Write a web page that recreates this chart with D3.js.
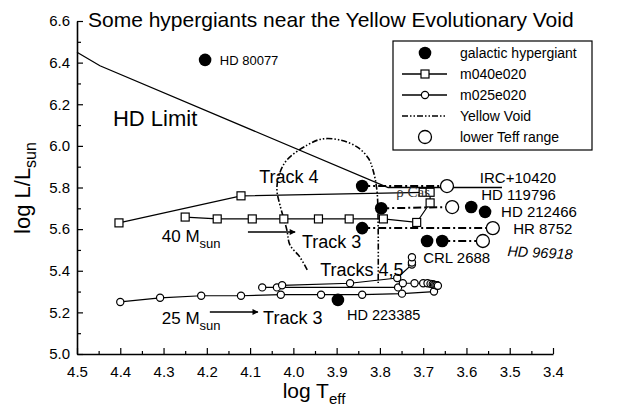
<!DOCTYPE html>
<html><head><meta charset="utf-8">
<script src="https://cdn.jsdelivr.net/npm/d3@7"></script>
<style>
body{margin:0;background:#fff;}
text{font-family:"Liberation Sans",Arial,Helvetica,sans-serif;fill:#000;}
</style></head>
<body>
<svg id="c" width="630" height="408"></svg>
<script>
// ---- data (log Teff, log L/Lsun) ----
const hdLimit = [[4.5,6.45],[4.447,6.385],[3.781,5.80],[3.518,5.80]];
const hypergiants = [[4.204,6.413],[3.841,5.807],[3.797,5.70],[3.841,5.605],[3.589,5.706],[3.557,5.683],[3.691,5.543],[3.656,5.543],[3.897,5.26]];
const lowerTeff = [[3.645,5.807],[3.633,5.706],[3.539,5.605],[3.562,5.543]];
const teffLinks = [[[3.841,5.807],[3.645,5.807]],[[3.797,5.70],[3.633,5.706]],[[3.841,5.605],[3.539,5.605]],[[3.656,5.543],[3.562,5.543]]];
const m040track4 = [[4.403,5.63],[4.121,5.76],[3.700,5.777]];
const m040track3 = [[4.25,5.658],[4.176,5.649],[4.095,5.649],[4.022,5.649],[3.942,5.649],[3.871,5.649],[3.792,5.649],[3.715,5.632],[3.684,5.726],[3.684,5.777]];
const m025track3 = [[4.40,5.25],[4.308,5.27],[4.213,5.28],[4.121,5.28],[4.029,5.285],[3.936,5.285],[3.841,5.285],[3.749,5.29],[3.675,5.30],[3.668,5.33]];
const m025track4 = [[4.072,5.32],[4.038,5.32],[3.758,5.32],[3.747,5.34],[3.72,5.34],[3.70,5.34],[3.69,5.34],[3.683,5.337],[3.678,5.335],[3.675,5.333],[3.672,5.331],[3.669,5.33],[3.666,5.328]];
const m025track5 = [[4.026,5.33],[3.869,5.34],[3.76,5.365],[3.726,5.43],[3.726,5.44],[3.726,5.465]];
const yellowVoid = [[3.968,5.404],[3.985,5.466],[4.008,5.524],[4.015,5.596],[4.031,5.716],[4.038,5.788],[4.033,5.860],[4.015,5.932],[3.968,6.004],[3.934,6.033],[3.892,6.028],[3.853,5.995],[3.827,5.942],[3.816,5.884],[3.807,5.788],[3.804,5.596],[3.804,5.341]];
const xTicks = [4.5,4.4,4.3,4.2,4.1,4.0,3.9,3.8,3.7,3.6,3.5,3.4];
const yTicks = [5.0,5.2,5.4,5.6,5.8,6.0,6.2,6.4,6.6];
const legendItems = ["galactic hypergiant","m040e020","m025e020","Yellow Void","lower Teff range"];
const starLabels = [
  {t:"HD 80077",x:4.170,y:6.389,s:13},
  {t:"IRC+10420",x:3.569,y:5.822,s:15},
  {t:"HD 119796",x:3.566,y:5.740,s:15},
  {t:"HD 212466",x:3.520,y:5.658,s:15},
  {t:"HR 8752",x:3.492,y:5.577,s:15},
  {t:"CRL 2688",x:3.700,y:5.437,s:15},
  {t:"HD 223385",x:3.876,y:5.163,s:14.5}
];

const svg = d3.select("#c");
const x = d3.scaleLinear().domain([4.5,3.4]).range([77,553]);
const y = d3.scaleLinear().domain([5.0,6.6]).range([354,21]);
const line = d3.line().x(d=>x(d[0])).y(d=>y(d[1]));

// axes
svg.append("g").attr("transform","translate(0,354)")
  .call(d3.axisBottom(x).tickValues(xTicks).tickFormat(d3.format(".1f")).tickSize(-6).tickSizeOuter(0).tickPadding(12));
const xm = svg.append("g").attr("transform","translate(0,354)")
  .call(d3.axisBottom(x).tickValues(d3.range(0,11).map(i=>4.45-i*0.1)).tickFormat("").tickSize(-3).tickSizeOuter(0));
xm.select(".domain").remove();
svg.append("g").attr("transform","translate(77,0)")
  .call(d3.axisLeft(y).tickValues(yTicks).tickFormat(d3.format(".1f")).tickSize(-6).tickSizeOuter(0).tickPadding(7));
const ym = svg.append("g").attr("transform","translate(77,0)")
  .call(d3.axisLeft(y).tickValues(d3.range(0,8).map(i=>5.1+i*0.2)).tickFormat("").tickSize(-4).tickSizeOuter(0));
ym.select(".domain").remove();
svg.selectAll(".domain").attr("stroke","#000").attr("stroke-width",1.6);
svg.selectAll(".tick line").attr("stroke","#000").attr("stroke-width",1.2);
svg.selectAll(".tick text").attr("font-size",15).attr("font-family","Liberation Sans, Arial, sans-serif").attr("fill","#000");

// axis titles
const xt = svg.append("text").attr("x",314).attr("y",398).attr("text-anchor","middle").attr("font-size",21);
xt.append("tspan").text("log T");
xt.append("tspan").attr("font-size",15).attr("dy",6).text("eff");
const yt = svg.append("text").attr("transform","translate(30,188) rotate(-90)").attr("text-anchor","middle").attr("font-size",22);
yt.append("tspan").text("log L/L");
yt.append("tspan").attr("font-size",16).attr("dy",6).text("sun");

// title
svg.append("text").attr("x",88).attr("y",27).attr("font-size",21).text("Some hypergiants near the Yellow Evolutionary Void");

// HD limit
svg.append("path").attr("d",line(hdLimit)).attr("fill","none").attr("stroke","#000").attr("stroke-width",1.3);

// yellow void
svg.append("path").attr("d",line.curve(d3.curveCatmullRom)(yellowVoid)).attr("fill","none").attr("stroke","#000")
  .attr("stroke-width",1.6).attr("stroke-dasharray","6,2,1.5,2,1.5,2");
line.curve(d3.curveLinear);

// dash-dot links
svg.selectAll(".lnk").data(teffLinks).enter().append("path").attr("d",d=>line(d)).attr("fill","none")
  .attr("stroke","#000").attr("stroke-width",2).attr("stroke-dasharray","8,3,2,3");

// tracks
[m040track4,m040track3,m025track3,m025track4,m025track5].forEach(t=>{
  svg.append("path").attr("d",line(t)).attr("fill","none").attr("stroke","#000").attr("stroke-width",1.2);
});
[m040track4,m040track3].forEach(t=>{
  svg.selectAll(null).data(t).enter().append("rect").attr("x",d=>x(d[0])-4).attr("y",d=>y(d[1])-4)
    .attr("width",8).attr("height",8).attr("fill","#fff").attr("stroke","#000").attr("stroke-width",1.2);
});
[m025track3,m025track4,m025track5].forEach(t=>{
  svg.selectAll(null).data(t).enter().append("circle").attr("cx",d=>x(d[0])).attr("cy",d=>y(d[1]))
    .attr("r",3.6).attr("fill","#fff").attr("stroke","#000").attr("stroke-width",1.2);
});

// lower Teff range
svg.selectAll(".lt").data(lowerTeff).enter().append("circle").attr("cx",d=>x(d[0])).attr("cy",d=>y(d[1]))
  .attr("r",6.5).attr("fill","#fff").attr("stroke","#000").attr("stroke-width",1.3);
// hypergiants
svg.selectAll(".hg").data(hypergiants).enter().append("circle").attr("cx",d=>x(d[0])).attr("cy",d=>y(d[1]))
  .attr("r",6.3).attr("fill","#000");

// star labels
starLabels.forEach(l=>{
  svg.append("text").attr("x",x(l.x)).attr("y",y(l.y)).attr("font-size",l.s).text(l.t);
});
svg.append("text").attr("x",x(3.506)).attr("y",y(5.471)).attr("font-size",14.5).attr("font-style","italic")
  .attr("transform",`rotate(3,${x(3.506)},${y(5.471)})`).text("HD 96918");
svg.append("text").attr("x",x(3.762)).attr("y",y(5.756)).attr("font-size",15)
  .style("font-family","Liberation Serif, Times New Roman, serif").style("fill","#333").text("ρ Cas");

// annotations
svg.append("text").attr("x",x(4.417)).attr("y",y(6.096)).attr("font-size",22).text("HD Limit");
svg.append("text").attr("x",x(4.079)).attr("y",y(5.822)).attr("font-size",18).text("Track 4");
svg.append("text").attr("x",x(3.980)).attr("y",y(5.509)).attr("font-size",18).text("Track 3");
svg.append("text").attr("x",x(3.938)).attr("y",y(5.375)).attr("font-size",18).text("Tracks 4,5");
svg.append("text").attr("x",x(4.070)).attr("y",y(5.144)).attr("font-size",18).text("Track 3");
[[4.304,5.538,"40"],[4.304,5.144,"25"]].forEach(a=>{
  const t=svg.append("text").attr("x",x(a[0])).attr("y",y(a[1])).attr("font-size",17);
  t.append("tspan").text(a[2]+" M");
  t.append("tspan").attr("font-size",13).attr("dy",6).text("sun");
});
const defs = svg.append("defs");
defs.append("marker").attr("id","ah").attr("viewBox","0 0 10 10").attr("refX",9).attr("refY",5)
  .attr("markerWidth",10).attr("markerHeight",6).attr("markerUnits","userSpaceOnUse").attr("orient","auto")
  .append("path").attr("d","M0,0L10,5L0,10z").attr("fill","#000");
[[[4.105,5.586],[3.996,5.586]],[[4.193,5.202],[4.082,5.202]]].forEach(a=>{
  svg.append("path").attr("d",line(a)).attr("stroke","#000").attr("stroke-width",1.5).attr("marker-end","url(#ah)");
});

// legend
const lg = svg.append("g");
lg.append("rect").attr("x",393).attr("y",41).attr("width",199).attr("height",109).attr("fill","#fff").attr("stroke","#000").attr("stroke-width",1.2);
const rows = legendItems.map((t,i)=>({t,yy:53+i*21}));
rows.forEach((r,i)=>{
  lg.append("text").attr("x",460).attr("y",r.yy+5).attr("font-size",14).text(r.t);
  if(i==0) lg.append("circle").attr("cx",425).attr("cy",r.yy).attr("r",6.3).attr("fill","#000");
  if(i==1||i==2) lg.append("line").attr("x1",402).attr("x2",447).attr("y1",r.yy).attr("y2",r.yy).attr("stroke","#000").attr("stroke-width",1.3);
  if(i==1) lg.append("rect").attr("x",421).attr("y",r.yy-4).attr("width",8).attr("height",8).attr("fill","#fff").attr("stroke","#000").attr("stroke-width",1.2);
  if(i==2) lg.append("circle").attr("cx",425).attr("cy",r.yy).attr("r",3.6).attr("fill","#fff").attr("stroke","#000").attr("stroke-width",1.2);
  if(i==3) lg.append("line").attr("x1",402).attr("x2",447).attr("y1",r.yy).attr("y2",r.yy).attr("stroke","#000").attr("stroke-width",1.6).attr("stroke-dasharray","6,2,1.5,2,1.5,2");
  if(i==4) lg.append("circle").attr("cx",425).attr("cy",r.yy).attr("r",6.5).attr("fill","#fff").attr("stroke","#000").attr("stroke-width",1.3);
});
</script>
</body></html>
